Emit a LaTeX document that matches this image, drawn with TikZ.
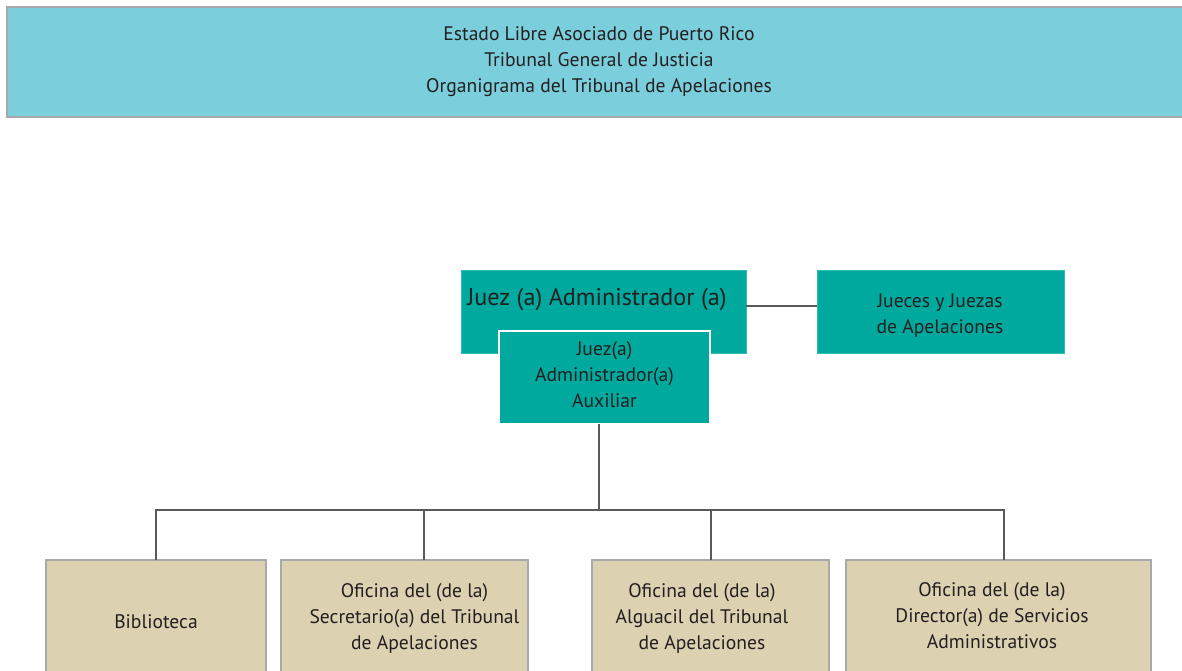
\documentclass[tikz,border=0pt]{standalone}
\usepackage{fontspec}
\setmainfont{PT Sans}
\definecolor{hdr}{HTML}{7BCFDD}
\definecolor{teal}{HTML}{00A99D}
\definecolor{beige}{HTML}{DCD1B1}
\definecolor{edge}{HTML}{A7A9AC}
\definecolor{ink}{HTML}{231F20}
\definecolor{wire}{HTML}{58595B}
\begin{document}
\begin{tikzpicture}[x=1pt,y=-1pt,
  txt/.style={text=ink,align=center,font=\fontsize{19.6}{26}\selectfont},
  tealbox/.style={fill=teal,draw=teal!80!white,line width=1pt},
  beigebox/.style={fill=beige,draw=edge,line width=1.5pt},
  wireline/.style={draw=wire,line width=2pt}]
\useasboundingbox (0,0) rectangle (1182,671);
\clip (0,0) rectangle (1182,671);
% header
\draw[fill=hdr,draw=edge,line width=1.5pt] (7,7) rectangle (1185,117);
\node[txt] (hdr) at (599,62) {Estado Libre Asociado de Puerto Rico\\Tribunal General de Justicia\\Organigrama del Tribunal de Apelaciones};
% top boxes
\path[tealbox] (461,270) rectangle (746,353);
\coordinate (jaR) at (746,306);
\node[txt,font=\fontsize{24.2}{26}\selectfont,anchor=center] (ja) at (597,300) {Juez (a) Administrador (a)};
\path[tealbox] (817,270) rectangle (1064,353);
\coordinate (jjL) at (817,306);
\node[txt] (jj) at (940,316) {Jueces y Juezas\\de Apelaciones};
\draw[wireline] (jaR) -- (jjL);
\path[fill=teal,draw=white,line width=1.5pt] (499,331) rectangle (710,424);
\node[txt] (aux) at (604.5,375) {Juez(a)\\Administrador(a)\\Auxiliar};
\coordinate (auxB) at (599,424);
% bottom boxes
\path[beigebox] (46,560) rectangle (266,690);
\path[beigebox] (281,560) rectangle (528,690);
\path[beigebox] (592,560) rectangle (829,690);
\path[beigebox] (846,560) rectangle (1151,690);
\node[txt] (bib) at (156,622) {Biblioteca};
\node[txt] (sec) at (414.5,618) {Oficina del (de la)\\Secretario(a) del Tribunal\\de Apelaciones};
\node[txt] (alg) at (702,618) {Oficina del (de la)\\Alguacil del Tribunal\\de Apelaciones};
\node[txt] (dir) at (992,616) {Oficina del (de la)\\Director(a) de Servicios\\Administrativos};
\coordinate (bus) at (599,510);
\coordinate (t1) at (156,560);
\coordinate (t2) at (424,560);
\coordinate (t3) at (711,560);
\coordinate (t4) at (1004,560);
\draw[wireline] (auxB) -- (bus);
\draw[wireline] (t1) |- (bus) -| (t4);
\draw[wireline] (t2) -- (t2 |- bus);
\draw[wireline] (t3) -- (t3 |- bus);
\end{tikzpicture}
\end{document}
